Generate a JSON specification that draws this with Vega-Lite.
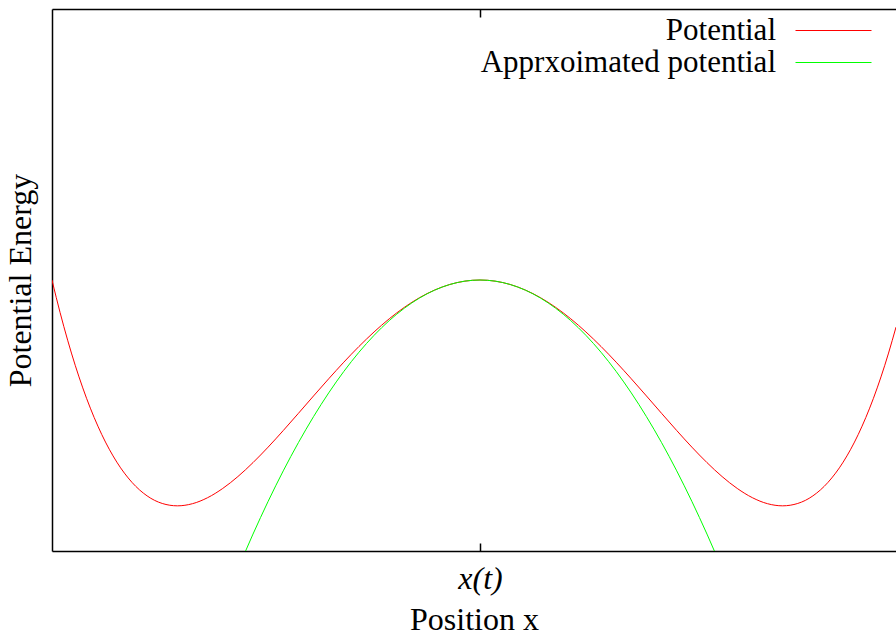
{
  "$schema": "https://vega.github.io/schema/vega-lite/v6.json",
  "width": 844,
  "height": 542,
  "autosize": {"type": "none"},
  "padding": {"left": 52, "top": 9, "right": 0, "bottom": 86},
  "background": "white",
  "config": {"view": {"stroke": null}, "font": "Liberation Serif"},
  "datasets": {
    "pot": [
      {"x": -1.4142, "y": 0.0, "series": "Potential"},
      {"x": -1.40, "y": -0.0784, "series": "Potential"},
      {"x": -1.35, "y": -0.32349, "series": "Potential"},
      {"x": -1.30, "y": -0.5239, "series": "Potential"},
      {"x": -1.25, "y": -0.68359, "series": "Potential"},
      {"x": -1.20, "y": -0.8064, "series": "Potential"},
      {"x": -1.15, "y": -0.89599, "series": "Potential"},
      {"x": -1.10, "y": -0.9559, "series": "Potential"},
      {"x": -1.05, "y": -0.98949, "series": "Potential"},
      {"x": -1.00, "y": -1.0, "series": "Potential"},
      {"x": -0.95, "y": -0.99049, "series": "Potential"},
      {"x": -0.90, "y": -0.9639, "series": "Potential"},
      {"x": -0.85, "y": -0.92299, "series": "Potential"},
      {"x": -0.80, "y": -0.8704, "series": "Potential"},
      {"x": -0.75, "y": -0.80859, "series": "Potential"},
      {"x": -0.70, "y": -0.7399, "series": "Potential"},
      {"x": -0.65, "y": -0.66649, "series": "Potential"},
      {"x": -0.60, "y": -0.5904, "series": "Potential"},
      {"x": -0.55, "y": -0.51349, "series": "Potential"},
      {"x": -0.50, "y": -0.4375, "series": "Potential"},
      {"x": -0.45, "y": -0.36399, "series": "Potential"},
      {"x": -0.40, "y": -0.2944, "series": "Potential"},
      {"x": -0.35, "y": -0.22999, "series": "Potential"},
      {"x": -0.30, "y": -0.1719, "series": "Potential"},
      {"x": -0.25, "y": -0.12109, "series": "Potential"},
      {"x": -0.20, "y": -0.0784, "series": "Potential"},
      {"x": -0.15, "y": -0.04449, "series": "Potential"},
      {"x": -0.10, "y": -0.0199, "series": "Potential"},
      {"x": -0.05, "y": -0.005, "series": "Potential"},
      {"x": 0.00, "y": 0.0, "series": "Potential"},
      {"x": 0.05, "y": -0.005, "series": "Potential"},
      {"x": 0.10, "y": -0.0199, "series": "Potential"},
      {"x": 0.15, "y": -0.04449, "series": "Potential"},
      {"x": 0.20, "y": -0.0784, "series": "Potential"},
      {"x": 0.25, "y": -0.12109, "series": "Potential"},
      {"x": 0.30, "y": -0.1719, "series": "Potential"},
      {"x": 0.35, "y": -0.22999, "series": "Potential"},
      {"x": 0.40, "y": -0.2944, "series": "Potential"},
      {"x": 0.45, "y": -0.36399, "series": "Potential"},
      {"x": 0.50, "y": -0.4375, "series": "Potential"},
      {"x": 0.55, "y": -0.51349, "series": "Potential"},
      {"x": 0.60, "y": -0.5904, "series": "Potential"},
      {"x": 0.65, "y": -0.66649, "series": "Potential"},
      {"x": 0.70, "y": -0.7399, "series": "Potential"},
      {"x": 0.75, "y": -0.80859, "series": "Potential"},
      {"x": 0.80, "y": -0.8704, "series": "Potential"},
      {"x": 0.85, "y": -0.92299, "series": "Potential"},
      {"x": 0.90, "y": -0.9639, "series": "Potential"},
      {"x": 0.95, "y": -0.99049, "series": "Potential"},
      {"x": 1.00, "y": -1.0, "series": "Potential"},
      {"x": 1.05, "y": -0.98949, "series": "Potential"},
      {"x": 1.10, "y": -0.9559, "series": "Potential"},
      {"x": 1.15, "y": -0.89599, "series": "Potential"},
      {"x": 1.20, "y": -0.8064, "series": "Potential"},
      {"x": 1.25, "y": -0.68359, "series": "Potential"},
      {"x": 1.30, "y": -0.5239, "series": "Potential"},
      {"x": 1.35, "y": -0.32349, "series": "Potential"},
      {"x": 1.3746, "y": -0.20874, "series": "Potential"}
    ],
    "approx": [
      {"x": -0.80, "y": -1.28, "series": "Apprxoimated potential"},
      {"x": -0.75, "y": -1.125, "series": "Apprxoimated potential"},
      {"x": -0.70, "y": -0.98, "series": "Apprxoimated potential"},
      {"x": -0.65, "y": -0.845, "series": "Apprxoimated potential"},
      {"x": -0.60, "y": -0.72, "series": "Apprxoimated potential"},
      {"x": -0.55, "y": -0.605, "series": "Apprxoimated potential"},
      {"x": -0.50, "y": -0.5, "series": "Apprxoimated potential"},
      {"x": -0.45, "y": -0.405, "series": "Apprxoimated potential"},
      {"x": -0.40, "y": -0.32, "series": "Apprxoimated potential"},
      {"x": -0.35, "y": -0.245, "series": "Apprxoimated potential"},
      {"x": -0.30, "y": -0.18, "series": "Apprxoimated potential"},
      {"x": -0.25, "y": -0.125, "series": "Apprxoimated potential"},
      {"x": -0.20, "y": -0.08, "series": "Apprxoimated potential"},
      {"x": -0.15, "y": -0.045, "series": "Apprxoimated potential"},
      {"x": -0.10, "y": -0.02, "series": "Apprxoimated potential"},
      {"x": -0.05, "y": -0.005, "series": "Apprxoimated potential"},
      {"x": 0.00, "y": 0.0, "series": "Apprxoimated potential"},
      {"x": 0.05, "y": -0.005, "series": "Apprxoimated potential"},
      {"x": 0.10, "y": -0.02, "series": "Apprxoimated potential"},
      {"x": 0.15, "y": -0.045, "series": "Apprxoimated potential"},
      {"x": 0.20, "y": -0.08, "series": "Apprxoimated potential"},
      {"x": 0.25, "y": -0.125, "series": "Apprxoimated potential"},
      {"x": 0.30, "y": -0.18, "series": "Apprxoimated potential"},
      {"x": 0.35, "y": -0.245, "series": "Apprxoimated potential"},
      {"x": 0.40, "y": -0.32, "series": "Apprxoimated potential"},
      {"x": 0.45, "y": -0.405, "series": "Apprxoimated potential"},
      {"x": 0.50, "y": -0.5, "series": "Apprxoimated potential"},
      {"x": 0.55, "y": -0.605, "series": "Apprxoimated potential"},
      {"x": 0.60, "y": -0.72, "series": "Apprxoimated potential"},
      {"x": 0.65, "y": -0.845, "series": "Apprxoimated potential"},
      {"x": 0.70, "y": -0.98, "series": "Apprxoimated potential"},
      {"x": 0.75, "y": -1.125, "series": "Apprxoimated potential"},
      {"x": 0.80, "y": -1.28, "series": "Apprxoimated potential"}
    ]
  },
  "layer": [
    {
      "data": {"name": "pot"},
      "mark": {"type": "line", "clip": true, "strokeWidth": 1, "interpolate": "monotone"},
      "encoding": {
        "x": {
          "field": "x", "type": "quantitative",
          "scale": {"domain": [-1.4142, 1.3746], "nice": false, "zero": false},
          "axis": {
            "orient": "bottom", "values": [0], "labelExpr": "'x(t)'", "grid": false,
            "tickSize": -8, "tickColor": "black", "tickWidth": 1.5,
            "domainColor": "black", "domainWidth": 1.5,
            "labelFont": "Liberation Serif", "labelFontSize": 32, "labelFontStyle": "italic", "labelColor": "black",
            "labelPadding": 20,
            "title": "Position x", "titleFont": "Liberation Serif", "titleFontSize": 32, "titleFontWeight": "normal",
            "titleColor": "black", "titlePadding": 10
          }
        },
        "y": {
          "field": "y", "type": "quantitative",
          "scale": {"domain": [-1.2, 1.2], "nice": false, "zero": false},
          "axis": {
            "labels": false, "ticks": false, "grid": false,
            "domainColor": "black", "domainWidth": 1.5,
            "title": "Potential Energy", "titleFont": "Liberation Serif", "titleFontSize": 32, "titleFontWeight": "normal",
            "titleColor": "black", "titlePadding": 15
          }
        },
        "color": {
          "field": "series", "type": "nominal",
          "scale": {"domain": ["Potential", "Apprxoimated potential"], "range": ["#ff0000", "#00ff00"]},
          "legend": {
            "orient": "none", "legendX": 766, "legendY": 6, "title": null,
            "symbolType": "M-4,0H4", "symbolSize": 361, "symbolStrokeWidth": 1,
            "labelAlign": "right", "labelOffset": -73, "labelFont": "Liberation Serif", "labelFontSize": 31,
            "labelColor": "black", "labelLimit": 0, "rowPadding": 0, "padding": 0,
            "encode": {"symbols": {"update": {"stroke": {"scale": "color", "field": "value"}, "fill": {"value": "transparent"}}}}
          }
        }
      }
    },
    {
      "data": {"name": "approx"},
      "mark": {"type": "line", "clip": true, "strokeWidth": 1, "interpolate": "monotone"},
      "encoding": {
        "x": {
          "field": "x", "type": "quantitative",
          "axis": {
            "orient": "top", "values": [0], "labels": false, "grid": false,
            "tickSize": -8, "tickColor": "black", "tickWidth": 1.5,
            "domainColor": "black", "domainWidth": 1.5, "title": null
          }
        },
        "y": {"field": "y", "type": "quantitative"},
        "color": {"field": "series", "type": "nominal"}
      }
    }
  ],
  "resolve": {"axis": {"x": "independent"}}
}
